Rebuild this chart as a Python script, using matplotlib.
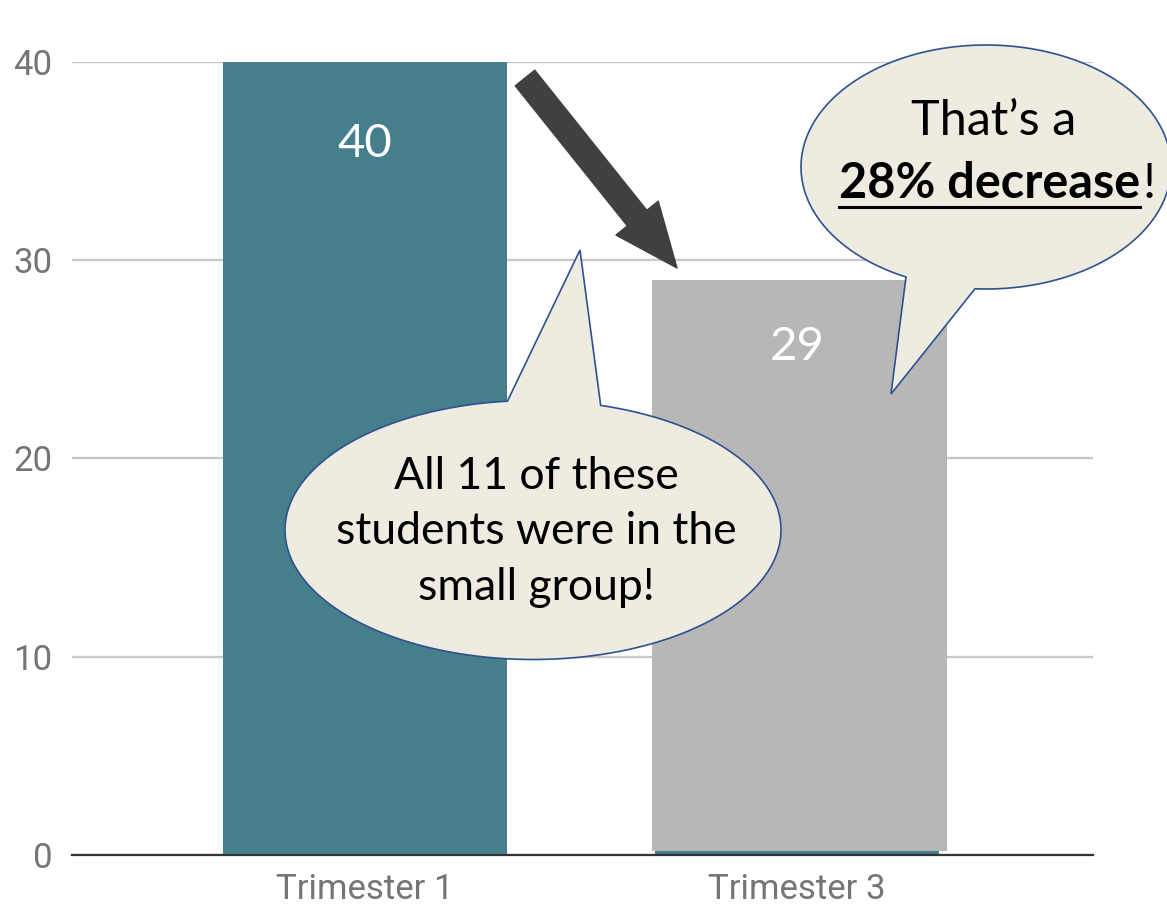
import numpy as np
import matplotlib
matplotlib.use("Agg")
import matplotlib.pyplot as plt
from matplotlib import transforms as mtransforms
from matplotlib.patches import PathPatch
from matplotlib.path import Path
from matplotlib.lines import Line2D

# data
categories = ["Trimester 1", "Trimester 3"]
values = [40, 29]
bar_colors = ["#467f8c", "#b7b7b7"]
yticks = [0, 10, 20, 30, 40]
label_offsets = [-59, -48]  # points below bar top

W, H = 1167, 906
fig = plt.figure(figsize=(W / 100, H / 100), dpi=100)
ax = fig.add_axes([72 / W, 51 / H, 1021 / W, 793 / H])

x = np.arange(len(categories))
# teal bar sits underneath the grey one (only a thin strip shows at the base)
ax.bar(x, values, width=0.657, color=bar_colors[0], zorder=2)
ax.bar(x[1] + 0.006, values[1] - 0.2, bottom=0.2, width=0.683, color=bar_colors[1], zorder=3)

for xi, v, off in zip(x, values, label_offsets):
    ax.annotate(str(v), (xi, v), xytext=(0, off), textcoords="offset points",
                ha="center", va="center", color="white", fontsize=34,
                family="Lato", zorder=4)

ax.set_xlim(-0.678, 1.685)
ax.set_ylim(0, 40)
ax.set_xticks(x)
ax.set_xticklabels(categories)
ax.set_yticks(yticks)
ax.tick_params(length=0, labelsize=25, labelcolor="#757575")
ax.tick_params(axis="x", pad=13)
ax.tick_params(axis="y", pad=14)
for lab in ax.get_xticklabels() + ax.get_yticklabels():
    lab.set_family("Roboto")
ax.yaxis.grid(True, color="#c8c8c8", lw=1.7, zorder=0)
ax.set_axisbelow(True)
for s in ["top", "right", "left"]:
    ax.spines[s].set_visible(False)
ax.spines["bottom"].set_color("#333333")
ax.spines["bottom"].set_linewidth(1.6)
ax.spines["bottom"].set_zorder(5)

# pixel coords of the picture, y pointing down
pix = mtransforms.Affine2D().scale(1, -1).translate(0, H)


def bubble(cx, cy, w, h, base1, base2, tip):
    a, b = w / 2, h / 2
    t1 = np.arctan2((base1[1] - cy) / b, (base1[0] - cx) / a)
    t2 = np.arctan2((base2[1] - cy) / b, (base2[0] - cx) / a)
    span = (t1 - t2) % (2 * np.pi)
    if span < np.pi:
        span = span - 2 * np.pi
    ts = np.linspace(t2, t2 + span, 200)
    pts = [(cx + a * np.cos(t), cy + b * np.sin(t)) for t in ts]
    pts.append(tip)
    pts.append(pts[0])
    codes = [Path.MOVETO] + [Path.LINETO] * (len(pts) - 2) + [Path.CLOSEPOLY]
    p = PathPatch(Path(pts, codes), facecolor="#eeece1", edgecolor="#2f528f",
                  lw=1.2, transform=pix, zorder=10)
    fig.add_artist(p)


bubble(533, 530, 496, 259, (507, 399), (602, 403), (580, 250))
bubble(986, 167, 370, 244, (906, 277), (975, 289), (891, 394))

# arrow between the bars
ax.annotate("", xy=(677, 268), xytext=(525, 78), xycoords=pix, textcoords=pix,
            arrowprops=dict(arrowstyle="simple,head_length=2.3,head_width=1.95,tail_width=0.9",
                            color="#404040", mutation_scale=20, shrinkA=0, shrinkB=0),
            zorder=9)

fig.text(536, 532, "All 11 of these\nstudents were in the\nsmall group!", transform=pix,
         ha="center", va="center", fontsize=32, family="Lato", linespacing=1.45,
         color="black", zorder=11)

fig.text(994, 121, "That\u2019s a", transform=pix, ha="center", va="center",
         fontsize=35, family="Lato", color="black", zorder=11)

t_bold = fig.text(0, 184, "28% decrease", transform=pix, ha="left", va="center",
                  fontsize=35, family="Lato", weight="bold", color="black", zorder=11)
t_exc = fig.text(0, 184, "!", transform=pix, ha="left", va="center",
                 fontsize=35, family="Lato", color="black", zorder=11)
r = fig.canvas.get_renderer()
w1 = t_bold.get_window_extent(r).width
w2 = t_exc.get_window_extent(r).width
x0 = 996 - (w1 + w2) / 2
t_bold.set_position((x0, 184))
t_exc.set_position((x0 + w1 + 3, 184))
fig.add_artist(Line2D([x0, x0 + w1], [207, 207], transform=pix, color="black",
                      lw=2.2, zorder=11))

fig.savefig("out.png", dpi=100)
